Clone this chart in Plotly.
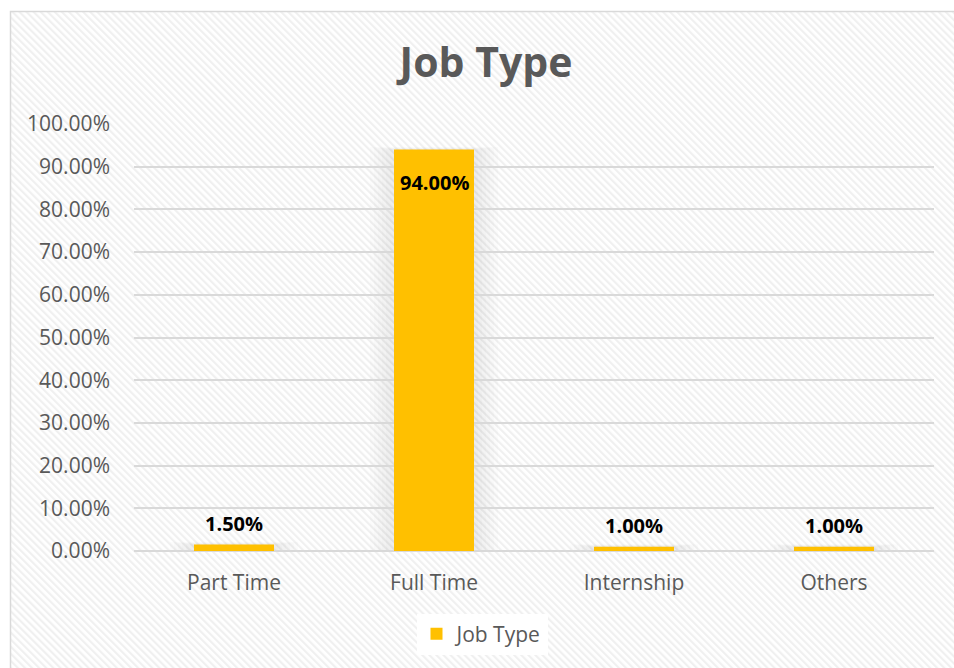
import base64
import plotly.graph_objects as go

# Job type distribution
categories = ["Part Time", "Full Time", "Internship", "Others"]
shares = [0.015, 0.94, 0.01, 0.01]
series_name = "Job Type"

W, H = 954, 668
L, R, T, B = 134, 20, 124, 117
plot_w = W - L - R
plot_h = H - T - B
bar_width = 0.4

# Light diagonal-stripe texture for the chart area
stripe_svg = (
    '<svg xmlns="http://www.w3.org/2000/svg" width="944" height="657">'
    '<defs><pattern id="p" width="5" height="5" patternUnits="userSpaceOnUse" '
    'patternTransform="rotate(-45)">'
    '<rect width="5" height="5" fill="#ffffff"/>'
    '<rect width="2.2" height="5" fill="#f0f0f0"/></pattern></defs>'
    '<rect width="944" height="657" fill="url(#p)"/></svg>'
)
stripe_uri = "data:image/svg+xml;base64," + base64.b64encode(stripe_svg.encode()).decode()


def px_to_paper_x(px):
    return (px - L) / plot_w


def px_to_paper_y(py):
    return (H - B - py) / plot_h


fig = go.Figure()
fig.add_trace(go.Bar(
    x=categories,
    y=shares,
    name=series_name,
    marker=dict(color="#FFC000", line=dict(width=0)),
    width=bar_width,
    cliponaxis=False,
    showlegend=True,
))

# Value labels: above short bars, inside the top of tall ones
annotations = []
for i, (cat, v) in enumerate(zip(categories, shares)):
    inside = v > 0.5
    annotations.append(dict(
        x=cat, y=v, xref="x", yref="y",
        text="<b>%.2f%%</b>" % (v * 100),
        showarrow=False,
        yanchor="top" if inside else "bottom",
        yshift=-17 if inside else 6,
        font=dict(family="Open Sans", size=20, color="#000000"),
    ))

# Soft glow behind the bars
shapes = []
for i, v in enumerate(shares):
    for k in range(1, 7):
        pad = 0.02 * k
        shapes.append(dict(
            type="rect", xref="x", yref="y",
            x0=i - bar_width / 2 - pad, x1=i + bar_width / 2 + pad,
            y0=0, y1=v + pad * 0.05,
            fillcolor="rgba(0,0,0,0.011)",
            line=dict(width=0),
            layer="below",
        ))

# Outer chart-area border
shapes.append(dict(
    type="rect",
    xref="paper", yref="paper",
    x0=px_to_paper_x(10.5), x1=px_to_paper_x(W + 5),
    y0=px_to_paper_y(H + 5), y1=px_to_paper_y(11.5),
    line=dict(color="#d9d9d9", width=1.5),
    fillcolor="rgba(0,0,0,0)",
    layer="below",
))

fig.update_layout(
    width=W,
    height=H,
    margin=dict(l=L, r=R, t=T, b=B),
    paper_bgcolor="rgba(0,0,0,0)",
    plot_bgcolor="rgba(0,0,0,0)",
    font=dict(family="Open Sans", color="#595959"),
    title=dict(
        text="<b>Job Type</b>",
        font=dict(family="Open Sans", size=41, color="#595959"),
        x=486 / W,
        xanchor="center",
        xref="container",
        y=1 - 63 / H,
        yanchor="middle",
        yref="container",
    ),
    xaxis=dict(
        showgrid=False,
        showline=False,
        ticks="",
        tickfont=dict(size=21, color="#595959"),
        ticklabelstandoff=17,
    ),
    yaxis=dict(
        range=[0, 1.0],
        dtick=0.1,
        tickformat=".2%",
        gridcolor="#d9d9d9",
        gridwidth=1.5,
        zeroline=True,
        zerolinecolor="#d9d9d9",
        zerolinewidth=1.5,
        showline=False,
        ticks="",
        tickfont=dict(size=21, color="#595959"),
        ticklabelstandoff=23,
    ),
    legend=dict(
        orientation="h",
        x=px_to_paper_x(482),
        xanchor="center",
        y=px_to_paper_y(634),
        yanchor="middle",
        bgcolor="#ffffff",
        font=dict(size=21, color="#595959"),
        itemwidth=30,
    ),
    annotations=annotations,
    images=[dict(
        source=stripe_uri,
        xref="paper", yref="paper",
        x=px_to_paper_x(10), y=px_to_paper_y(11),
        sizex=944 / plot_w, sizey=657 / plot_h,
        xanchor="left", yanchor="top",
        sizing="stretch",
        layer="below",
    )],
    shapes=shapes,
)

fig.write_html("out.html")
